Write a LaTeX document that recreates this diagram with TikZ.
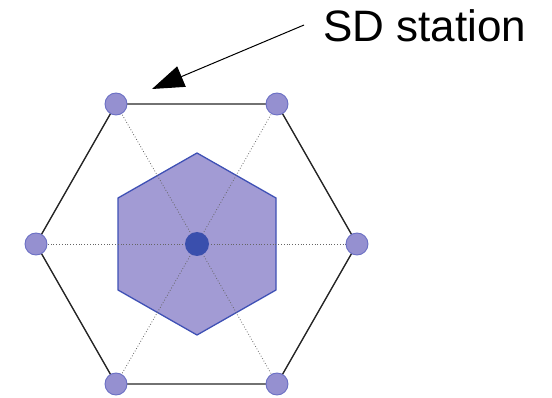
\documentclass[tikz,border=0pt]{standalone}
\usepackage{fontspec}
\setmainfont{Liberation Sans}
\usetikzlibrary{arrows.meta}
\definecolor{stfill}{HTML}{9590D0}
\definecolor{stdraw}{HTML}{6A6FC4}
\definecolor{hexfill}{HTML}{A29BD4}
\definecolor{hexdraw}{HTML}{3F51B5}
\definecolor{ctr}{HTML}{3A4FAD}
\tikzset{
  station/.style={circle, fill=stfill, draw=stdraw, line width=0.9pt, minimum size=22pt, inner sep=0pt},
  centre/.style={circle, fill=ctr, draw=none, minimum size=24pt, inner sep=0pt},
  ray/.style={gray!80!black, dotted, line width=0.8pt},
  rim/.style={black!85, line width=1.4pt},
}
\begin{document}
\begin{tikzpicture}[x=1pt,y=-1pt]
\useasboundingbox (0,0) rectangle (552,398);
% inner hexagon
\filldraw[fill=hexfill, draw=hexdraw, line width=1.3pt]
  (197,153) -- (276,198) -- (276,290) -- (197,335) -- (118,290) -- (118,198) -- cycle;
\coordinate (c) at (197,244);
\coordinate (p1) at (116,104);
\coordinate (p2) at (277,104);
\coordinate (p3) at (357,244);
\coordinate (p4) at (277,384);
\coordinate (p5) at (116,384);
\coordinate (p6) at (36,244);
\foreach \i in {1,...,6} \draw[ray] (c) -- (p\i);
\draw[rim] (p1) -- (p2) -- (p3) -- (p4) -- (p5) -- (p6) -- cycle;
\foreach \i in {1,...,6} \node[station] (s\i) at (p\i) {};
\node[centre] (m) at (c) {};
\node[anchor=base west, inner sep=0pt, font=\fontsize{44}{44}\selectfont] (lbl) at (323,42) {SD station};
\coordinate (tail) at (304,25);
\coordinate (tip) at (152,89);
\draw[line width=1pt, -{Triangle[length=32pt, width=22pt]}] (tail) -- (tip);
\end{tikzpicture}
\end{document}
